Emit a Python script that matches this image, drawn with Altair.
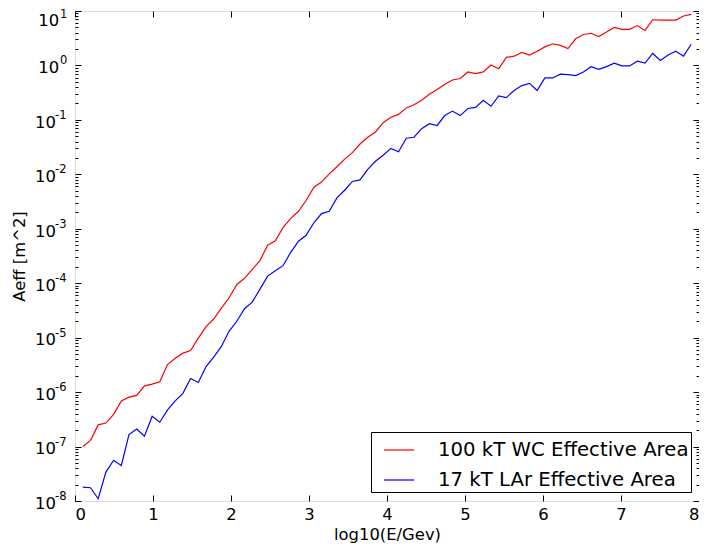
import altair as alt
import pandas as pd

# log10(E/GeV) sample positions
log_e = [0.100, 0.199, 0.297, 0.396, 0.495, 0.594, 0.692, 0.791, 0.890, 0.989,
         1.087, 1.186, 1.285, 1.384, 1.482, 1.581, 1.680, 1.778, 1.877, 1.976,
         2.075, 2.173, 2.272, 2.371, 2.470, 2.568, 2.667, 2.766, 2.865, 2.963,
         3.062, 3.161, 3.259, 3.358, 3.457, 3.556, 3.654, 3.753, 3.852, 3.951,
         4.049, 4.148, 4.247, 4.346, 4.444, 4.543, 4.642, 4.741, 4.839, 4.938,
         5.037, 5.135, 5.234, 5.333, 5.432, 5.530, 5.629, 5.728, 5.827, 5.925,
         6.024, 6.123, 6.222, 6.320, 6.419, 6.518, 6.616, 6.715, 6.814, 6.913,
         7.011, 7.110, 7.209, 7.308, 7.406, 7.505, 7.604, 7.703, 7.801, 7.900]

# 100 kT WC effective area [m^2]
aeff_wc = [1.0e-7, 1.3e-7, 2.5e-7, 2.7e-7, 3.9e-7, 6.9e-7, 8.1e-7, 8.7e-7, 1.3e-6, 1.4e-6,
           1.55e-6, 3.2e-6, 4.2e-6, 5.2e-6, 5.8e-6, 9.8e-6, 1.6e-5, 2.2e-5, 3.5e-5, 5.4e-5,
           9.5e-5, 1.23e-4, 1.8e-4, 2.6e-4, 5.0e-4, 6.0e-4, 1.05e-3, 1.55e-3, 2.1e-3, 3.3e-3,
           5.8e-3, 7.2e-3, 1.02e-2, 1.38e-2, 1.9e-2, 2.5e-2, 3.6e-2, 4.8e-2, 6.0e-2, 8.9e-2,
           0.112, 0.126, 0.166, 0.19, 0.23, 0.295, 0.36, 0.45, 0.54, 0.575,
           0.76, 0.71, 0.76, 1.02, 0.87, 1.41, 1.48, 1.74, 1.55, 1.82,
           2.19, 2.5, 2.34, 2.04, 3.09, 3.7, 3.9, 3.4, 4.1, 5.0,
           4.6, 4.6, 5.4, 4.4, 6.9, 6.8, 6.8, 6.8, 8.1, 8.7]

# 17 kT LAr effective area [m^2]
aeff_lar = [1.8e-8, 1.75e-8, 1.1e-8, 3.4e-8, 5.6e-8, 4.5e-8, 1.66e-7, 2.1e-7, 1.55e-7, 3.6e-7,
            2.8e-7, 4.7e-7, 6.9e-7, 9.5e-7, 1.78e-6, 1.5e-6, 2.95e-6, 4.4e-6, 6.9e-6, 1.32e-5,
            2.0e-5, 3.4e-5, 4.5e-5, 7.8e-5, 1.35e-4, 1.7e-4, 2.1e-4, 3.7e-4, 5.9e-4, 7.6e-4,
            1.29e-3, 1.9e-3, 2.1e-3, 3.7e-3, 5.1e-3, 7.4e-3, 7.9e-3, 1.23e-2, 1.74e-2, 2.24e-2,
            3.0e-2, 2.6e-2, 4.6e-2, 4.8e-2, 6.9e-2, 8.5e-2, 7.9e-2, 0.12, 0.145, 0.12,
            0.162, 0.17, 0.23, 0.178, 0.275, 0.257, 0.347, 0.427, 0.468, 0.347,
            0.59, 0.59, 0.69, 0.68, 0.65, 0.76, 0.95, 0.85, 0.95, 1.1,
            0.98, 0.98, 1.2, 1.1, 1.66, 1.23, 1.55, 1.82, 1.48, 2.45]

series_names = ["100 kT WC Effective Area", "17 kT LAr Effective Area"]
series_colors = ["#ff0000", "#0000ff"]

x_ticks = [0, 1, 2, 3, 4, 5, 6, 7, 8]
y_major = [1e-8, 1e-7, 1e-6, 1e-5, 1e-4, 1e-3, 1e-2, 1e-1, 1e0, 1e1]
y_exponents = ["-8", "-7", "-6", "-5", "-4", "-3", "-2", "-1", "0", "1"]
minor_mult = [2, 3, 4, 5, 6, 7, 8, 9]
y_minor = [m * d for d in y_major[:-1] for m in minor_mult]

rows = []
for name, vals in zip(series_names, [aeff_wc, aeff_lar]):
    for xv, yv in zip(log_e, vals):
        rows.append({"x": xv, "aeff": yv, "series": name})
df = pd.DataFrame(rows)

FONT = "DejaVu Sans"
FS = 16.4
xs = alt.Scale(domain=[0, 8], nice=False, zero=False)
ys = alt.Scale(type="log", domain=[1e-8, 10], nice=False)

exp_expr = "[" + ",".join("'%s'" % s for s in y_exponents) + "][round(log(datum.value)/LN10)+8]"

base = alt.Chart(df)


def ghost(y_axis, x_axis=None):
    return base.mark_line(opacity=0).encode(
        x=alt.X("x:Q", scale=xs, axis=x_axis),
        y=alt.Y("aeff:Q", scale=ys, axis=y_axis),
        detail="series:N",
    )


def tick_axis(orient, values, size):
    return alt.Axis(orient=orient, values=values, offset=-size, tickSize=size, domain=False,
                    grid=False, labels=False, tickColor="black", tickWidth=1, title=None)


def label_axis(values, expr, pad, off, size, align="left"):
    return alt.Axis(orient="left", values=values, ticks=False, tickSize=0, domain=False,
                    grid=False, labelExpr=expr, labelAlign=align, labelPadding=pad,
                    labelOffset=off, labelFont=FONT, labelFontSize=size, labelColor="black",
                    title=None)


lines = base.mark_line(strokeWidth=1.2).encode(
    x=alt.X("x:Q", scale=xs, axis=alt.Axis(
        orient="bottom", values=x_ticks[:-1], offset=-6, tickSize=6, domain=False, grid=False,
        labelPadding=5, labelFontSize=FS, labelFont=FONT, labelColor="black",
        tickColor="black", format="d",
        title="log10(E/Gev)", titleFont=FONT, titleFontSize=FS, titleFontWeight="normal",
        titleColor="black", titlePadding=4)),
    y=alt.Y("aeff:Q", scale=ys, axis=alt.Axis(
        orient="left", values=y_major, offset=-6, tickSize=6, domain=False, grid=False,
        labels=False, tickColor="black",
        title="Aeff [m^2]", titleFont=FONT, titleFontSize=FS, titleFontWeight="normal",
        titleColor="black", titlePadding=47)),
    color=alt.Color("series:N", scale=alt.Scale(domain=series_names, range=series_colors),
                    legend=alt.Legend(
                        title=None, orient="none", legendX=296, legendY=421, padding=2,
                        symbolType="stroke", symbolSize=900, symbolStrokeWidth=1.2,
                        symbolOffset=10, labelFontSize=19.7, labelFont=FONT,
                        labelColor="black", labelOffset=23, labelLimit=500,
                        labelExpr="datum.label + '\u00a0'",
                        strokeColor="black", fillColor="white", rowPadding=4,
                        cornerRadius=0)),
)

# opposite-side major ticks (top x, right y)
frame_major = ghost(tick_axis("right", y_major, 6), tick_axis("top", x_ticks, 6))

# last x label, right-aligned so it stays inside the page
last_x = ghost(
    tick_axis("left", y_minor, 3),
    alt.Axis(orient="bottom", values=x_ticks[-1:], ticks=False, tickSize=0, domain=False,
             grid=False, labelAlign="right", labelPadding=5, labelFontSize=FS,
             labelFont=FONT, labelColor="black", format="d", title=None),
)
minor_right = ghost(tick_axis("right", y_minor, 3))

# y tick labels written as 10 with a raised exponent
neg_vals = y_major[:8]
ten_neg = ghost(label_axis(neg_vals, "'10'", 40.5, 2.3, FS))
ten_one = ghost(label_axis([1e0], "'10'", 37.2, 2.3, FS))
ten_top = ghost(label_axis([1e1], "'10'", 37.2, 9.5, FS))
exp_neg = ghost(label_axis(neg_vals, exp_expr, 20.5, -4.5, 11.5))
exp_one = ghost(label_axis([1e0], exp_expr, 15.5, -4.5, 11.5))
exp_top = ghost(label_axis([1e1], exp_expr, 15.5, 3, 11.5))

chart = alt.layer(
    lines, frame_major, last_x, minor_right,
    ten_neg, ten_one, ten_top, exp_neg, exp_one, exp_top,
).resolve_axis(
    x="independent", y="independent"
).properties(
    width=624, height=490,
    autosize=alt.AutoSizeParams(type="none"),
    padding={"left": 67, "top": 3, "right": 0, "bottom": 44},
).configure_view(stroke="black", strokeWidth=1).configure(font=FONT, background="white")

chart.save("out.html", embed_options={"renderer": "svg", "actions": False})
